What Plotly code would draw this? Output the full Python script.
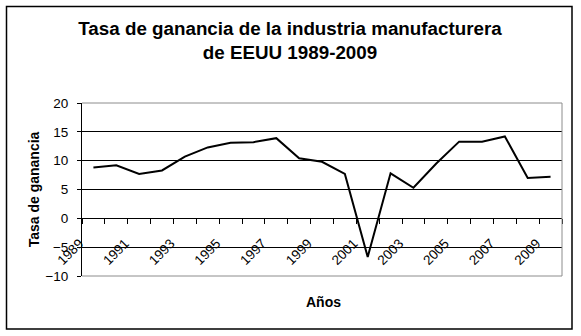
import plotly.graph_objects as go

years = list(range(1989, 2010))
tasa = [8.8, 9.2, 7.7, 8.3, 10.7, 12.3, 13.1, 13.2, 13.9, 10.4, 9.8, 7.7,
        -6.7, 7.8, 5.3, 9.5, 13.3, 13.3, 14.2, 7.0, 7.2]
label_years = list(range(1989, 2010, 2))
tick_labels = [str(y) for y in label_years]
boundaries = [y - 0.5 for y in range(1989, 2011)]

title_text = "Tasa de ganancia de la industria manufacturera<br>de EEUU 1989-2009"
y_title = "Tasa de ganancia"
x_title = "Años"

W, H = 581, 336
L, R, T, B = 82, 19, 103, 60
ymin, ymax = -10, 20
pw, ph = W - L - R, H - T - B

def px_x(p):
    return (p - L) / pw

def px_y(p):
    return (H - B - p) / ph

font = "Liberation Sans, Arial, sans-serif"

fig = go.Figure()
fig.add_trace(go.Scatter(x=years, y=tasa, mode="lines",
                         line=dict(color="black", width=2), showlegend=False))

zero_frac = (0 - ymin) / (ymax - ymin)

fig.update_layout(
    width=W, height=H,
    margin=dict(l=L, r=R, t=T, b=B),
    paper_bgcolor="white", plot_bgcolor="white",
    font=dict(family=font, color="black", size=13),
    title=dict(text="<b>" + title_text + "</b>", x=290 / W,
               xanchor="center", y=1 - 35 / H, yanchor="middle",
               font=dict(size=18.8, family=font, color="black")),
    xaxis=dict(
        range=[1988.5, 2009.5],
        tickvals=label_years, ticktext=tick_labels,
        tickangle=-45, ticks="outside", ticklen=0, tickcolor="rgba(0,0,0,0)",
        ticklabelstandoff=11, ticklabelshift=-14,
        minor=dict(tickvals=boundaries, ticks="outside", ticklen=5,
                   tickcolor="black", tickwidth=1, showgrid=False),
        showgrid=False, zeroline=False,
        showline=True, linecolor="black", linewidth=1,
        anchor="free", position=zero_frac,
        tickfont=dict(size=13.5, family=font),
    ),
    yaxis=dict(
        range=[ymin, ymax], dtick=5, tick0=0,
        ticks="outside", ticklen=4, tickcolor="black",
        ticklabelstandoff=6,
        showgrid=True, gridcolor="black", gridwidth=1,
        zeroline=False,
        showline=True, linecolor="black", linewidth=1,
        tickfont=dict(size=13.5, family=font),
        title=dict(text="<b>" + y_title + "</b>", standoff=2,
                   font=dict(size=14, family=font)),
    ),
    shapes=[
        dict(type="line", xref="x domain", yref="y domain", x0=0, x1=1, y0=1, y1=1,
             line=dict(color="#8c8c8c", width=1)),
        dict(type="line", xref="x domain", yref="y domain", x0=1, x1=1, y0=0, y1=1,
             line=dict(color="#8c8c8c", width=1)),
        dict(type="line", xref="x domain", yref="y domain", x0=0, x1=1, y0=0, y1=0,
             line=dict(color="#8c8c8c", width=1)),
        dict(type="rect", xref="paper", yref="paper",
             x0=px_x(6.5), x1=px_x(572), y0=px_y(329), y1=px_y(6.5),
             line=dict(color="black", width=1.5), layer="below"),
    ],
    annotations=[
        dict(text="<b>" + x_title + "</b>", xref="paper", yref="paper",
             x=px_x(323), y=px_y(302), xanchor="center", yanchor="middle",
             showarrow=False, font=dict(size=14, family=font)),
    ],
)

fig.write_html("out.html")
